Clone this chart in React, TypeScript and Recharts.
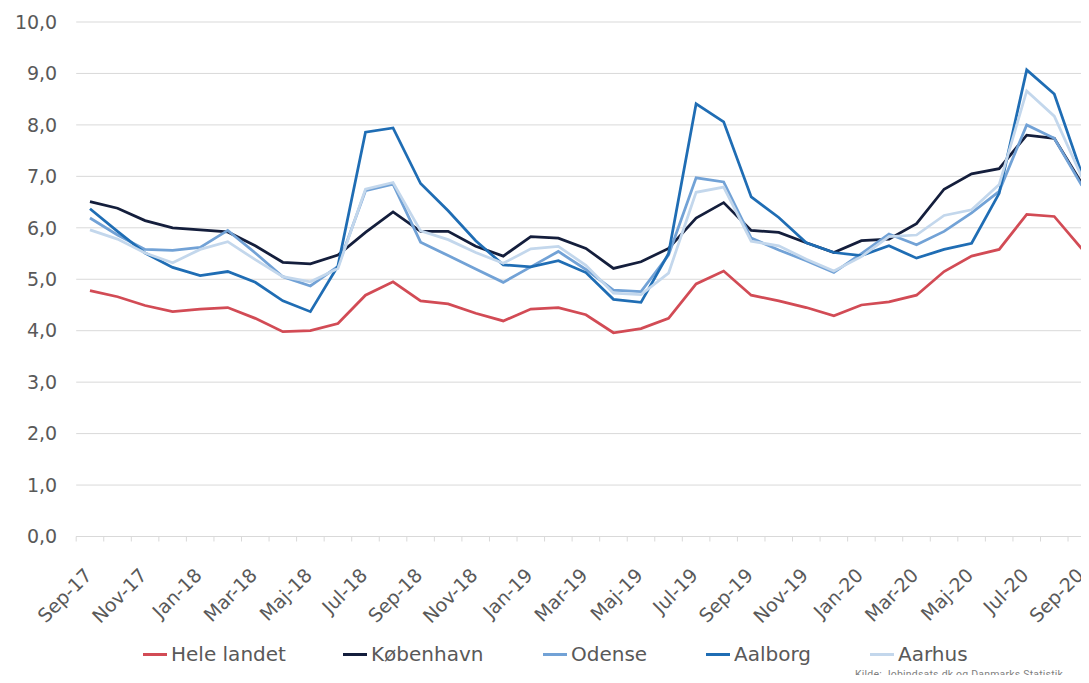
import React from 'react';
import { LineChart, Line, XAxis, YAxis, CartesianGrid, Legend } from 'recharts';

const months = [
  'Sep-17', 'Okt-17', 'Nov-17', 'Dec-17', 'Jan-18', 'Feb-18', 'Mar-18', 'Apr-18', 'Maj-18', 'Jun-18',
  'Jul-18', 'Aug-18', 'Sep-18', 'Okt-18', 'Nov-18', 'Dec-18', 'Jan-19', 'Feb-19', 'Mar-19', 'Apr-19',
  'Maj-19', 'Jun-19', 'Jul-19', 'Aug-19', 'Sep-19', 'Okt-19', 'Nov-19', 'Dec-19', 'Jan-20', 'Feb-20',
  'Mar-20', 'Apr-20', 'Maj-20', 'Jun-20', 'Jul-20', 'Aug-20', 'Sep-20',
];

const heleLandet = [
  4.78, 4.66, 4.49, 4.37, 4.42, 4.45, 4.24, 3.98, 4.0, 4.14,
  4.69, 4.95, 4.58, 4.52, 4.34, 4.19, 4.42, 4.45, 4.31, 3.96,
  4.04, 4.24, 4.91, 5.16, 4.69, 4.58, 4.45, 4.29, 4.5, 4.56,
  4.69, 5.15, 5.45, 5.58, 6.26, 6.22, 5.59,
];

const koebenhavn = [
  6.51, 6.38, 6.14, 6.0, 5.96, 5.92, 5.65, 5.33, 5.3, 5.47,
  5.91, 6.31, 5.93, 5.93, 5.64, 5.45, 5.83, 5.8, 5.6, 5.21,
  5.34, 5.6, 6.19, 6.49, 5.95, 5.91, 5.71, 5.52, 5.75, 5.78,
  6.08, 6.75, 7.05, 7.15, 7.8, 7.74, 6.86,
];

const odense = [
  6.19, 5.86, 5.58, 5.56, 5.62, 5.95, 5.51, 5.05, 4.87, 5.25,
  6.72, 6.85, 5.72, 5.46, 5.2, 4.94, 5.24, 5.54, 5.19, 4.79,
  4.76, 5.47, 6.97, 6.89, 5.8, 5.57, 5.36, 5.13, 5.5, 5.88,
  5.67, 5.93, 6.29, 6.71, 8.0, 7.74, 6.82,
];

const aalborg = [
  6.37, 5.93, 5.51, 5.23, 5.07, 5.15, 4.94, 4.58, 4.37, 5.26,
  7.86, 7.94, 6.86, 6.33, 5.75, 5.28, 5.24, 5.36, 5.13, 4.61,
  4.55, 5.5, 8.41, 8.06, 6.6, 6.2, 5.71, 5.52, 5.46, 5.65,
  5.41, 5.58, 5.7, 6.67, 9.07, 8.6, 7.05,
];

const aarhus = [
  5.96, 5.78, 5.51, 5.32, 5.58, 5.73, 5.38, 5.05, 4.95, 5.21,
  6.75, 6.88, 5.94, 5.77, 5.52, 5.31, 5.59, 5.64, 5.27, 4.73,
  4.7, 5.12, 6.69, 6.79, 5.74, 5.65, 5.39, 5.16, 5.44, 5.83,
  5.86, 6.24, 6.35, 6.84, 8.66, 8.17, 6.99,
];

const yTicks = [0, 1, 2, 3, 4, 5, 6, 7, 8, 9, 10];

const seriesNames = ['Hele landet', 'København', 'Odense', 'Aalborg', 'Aarhus'];
const seriesKeys = ['hele', 'kbh', 'odense', 'aalborg', 'aarhus'];
const seriesColors = ['#d24b55', '#141e3c', '#72a2d6', '#1f6db4', '#c3d7ec'];
const legendLeft = [143, 343, 543, 706, 870];

const data = months.map((m, i) => ({
  month: m,
  hele: heleLandet[i],
  kbh: koebenhavn[i],
  odense: odense[i],
  aalborg: aalborg[i],
  aarhus: aarhus[i],
}));

const HALF_STEP = 13.78;
const FONT = 'DejaVu Sans';

const XTick = (props: any) => {
  const { x, y, payload } = props;
  const idx = months.indexOf(payload.value);
  const ax = x + 3;
  const ay = y + 40;
  return (
    <g>
      <line x1={x - HALF_STEP} x2={x - HALF_STEP} y1={y} y2={y + 5} stroke="#d9d9d9" strokeWidth={1} />
      {idx % 2 === 0 && (
        <text
          x={ax}
          y={ay}
          textAnchor="end"
          transform={`rotate(-45, ${ax}, ${ay})`}
          fill="#595959"
          fontSize={19}
          fontFamily={FONT}
        >
          {payload.value}
        </text>
      )}
    </g>
  );
};

const renderLegend = () => (
  <div
    style={{
      position: 'relative',
      height: 32,
      fontFamily: FONT,
      fontSize: 20,
      color: '#595959',
      lineHeight: '20px',
    }}
  >
    {seriesNames.map((n, i) => (
      <div
        key={n}
        style={{ position: 'absolute', left: legendLeft[i], top: 0, height: 32, display: 'flex', alignItems: 'center', whiteSpace: 'nowrap' }}
      >
        <span
          style={{
            display: 'inline-block',
            width: 24,
            height: 3,
            background: seriesColors[i],
            marginRight: 4,
          }}
        />
        <span style={{ lineHeight: '20px' }}>{n}</span>
      </div>
    ))}
  </div>
);

export default function App() {
  return (
    <div style={{ position: 'relative', width: 1089, height: 683, overflow: 'hidden', margin: -8, background: '#fff' }}>
      <LineChart
        width={1100}
        height={683}
        data={data}
        margin={{ top: 22, right: 4.4, bottom: 13, left: 0 }}
      >
        <CartesianGrid vertical={false} stroke="#d9d9d9" strokeWidth={1} />
        <XAxis
          dataKey="month"
          interval={0}
          tickLine={false}
          tickSize={0}
          tickMargin={0}
          padding={{ left: HALF_STEP, right: HALF_STEP }}
          height={101.5}
          axisLine={{ stroke: '#d9d9d9' }}
          tick={<XTick />}
        />
        <YAxis
          domain={[0, 10]}
          ticks={yTicks}
          interval={0}
          width={76.2}
          axisLine={false}
          tickLine={false}
          tickMargin={13}
          tickFormatter={(v: number) => v.toFixed(1).replace('.', ',')}
          tick={{ fill: '#595959', fontSize: 19, fontFamily: FONT }}
        />
        <Legend
          verticalAlign="bottom"
          align="left"
          content={renderLegend}
          wrapperStyle={{ left: 0, width: 1089 }}
        />
        {seriesKeys.map((k, i) => (
          <Line
            key={k}
            type="linear"
            dataKey={k}
            name={seriesNames[i]}
            stroke={seriesColors[i]}
            strokeWidth={2.75}
            dot={false}
            activeDot={false}
            isAnimationActive={false}
          />
        ))}
      </LineChart>
      <div
        style={{
          position: 'absolute',
          left: 855,
          top: 669,
          fontFamily: 'Roboto',
          fontSize: 10.5,
          letterSpacing: 0.2,
          lineHeight: '11px',
          color: '#7f7f7f',
          whiteSpace: 'nowrap',
        }}
      >
        Kilde: Jobindsats.dk og Danmarks Statistik
      </div>
    </div>
  );
}
